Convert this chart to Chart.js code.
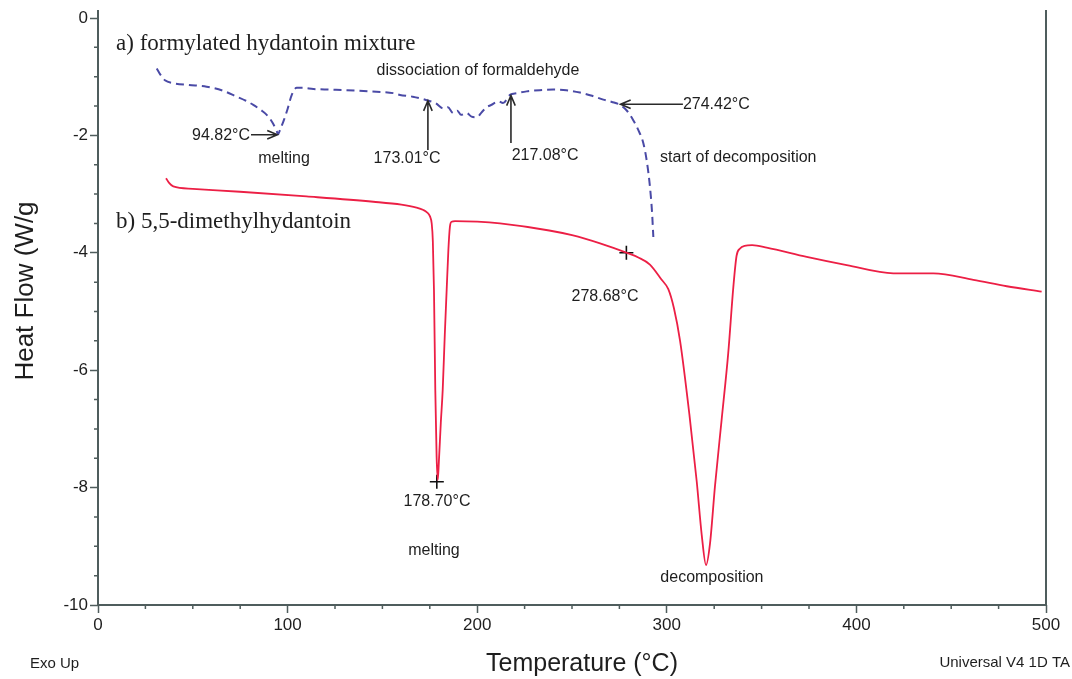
<!DOCTYPE html>
<html>
<head>
<meta charset="utf-8">
<title>DSC curves</title>
<script src="https://cdn.jsdelivr.net/npm/chart.js@4.4.0/dist/chart.umd.min.js"></script>
<style>
  html, body { margin: 0; padding: 0; background: #fff; }
  canvas { display: block; }
</style>
</head>
<body>
<canvas id="dsc" width="1072" height="679"></canvas>
<script>
// a) formylated hydantoin mixture (dashed blue)
const aTemp = [31, 33, 35.3, 39.7, 48, 57.3, 66, 73.1, 78, 81.9, 86, 89, 92, 94.3, 94.9, 96.3, 97.7, 100, 102.2, 104.8,
  108, 113.6, 122, 131.2, 143, 155.8, 159.3, 166, 173.4, 178, 182.1, 184.5, 187.4, 189.5, 191.5, 194.4, 197, 199.7,
  202.5, 205, 207.5, 209.5, 211.2, 213.6, 217.3, 221, 226.1, 233, 240.2, 247, 254.2, 260, 266.5, 271, 275.3, 279,
  282.3, 285, 287.6, 289.5, 291.1, 292.2, 292.9];
const aHeat = [-0.86, -0.97, -1.06, -1.11, -1.14, -1.17, -1.24, -1.34, -1.41, -1.48, -1.57, -1.65, -1.78, -1.93, -1.98,
  -1.88, -1.77, -1.55, -1.31, -1.19, -1.19, -1.21, -1.22, -1.23, -1.25, -1.28, -1.31, -1.34, -1.40, -1.45, -1.54,
  -1.52, -1.62, -1.58, -1.65, -1.62, -1.68, -1.69, -1.60, -1.52, -1.48, -1.44, -1.42, -1.45, -1.31, -1.28, -1.25,
  -1.23, -1.22, -1.23, -1.27, -1.32, -1.39, -1.43, -1.48, -1.58, -1.74, -1.91, -2.13, -2.45, -2.87, -3.30, -3.73];

// b) 5,5-dimethylhydantoin (solid red)
const bTemp = [35.9, 37.5, 39.7, 50, 74.9, 110, 145.2, 160, 168, 171.6, 173.5, 175.1, 176.0, 176.6, 177.2, 177.9, 178.6,
  179.2, 179.8, 180.8, 181.8, 182.9, 183.9, 184.8, 185.6, 186.5, 188.3, 200, 212, 238, 250, 264.8, 279.7, 285, 291.1,
  297.3, 300.8, 303.8, 307, 311.9, 315.8, 318.4, 320.7, 322.8, 325.4, 328.9, 332.4, 335.1, 336.8, 338.5, 341, 345,
  352.7, 373.8, 394.9, 419.5, 440.6, 461.7, 479.3, 497.7];
const bHeat = [-2.73, -2.81, -2.87, -2.91, -2.96, -3.04, -3.13, -3.18, -3.23, -3.27, -3.31, -3.38, -3.5, -3.8, -4.63,
  -6.34, -7.48, -7.87, -7.55, -6.9, -6.34, -5.4, -4.63, -3.95, -3.56, -3.47, -3.46, -3.47, -3.50, -3.62, -3.70, -3.84,
  -4.01, -4.08, -4.20, -4.46, -4.62, -4.95, -5.5, -6.75, -7.9, -8.8, -9.32, -8.95, -7.98, -6.85, -5.71, -4.58,
  -4.05, -3.93, -3.88, -3.87, -3.91, -4.07, -4.21, -4.35, -4.35, -4.46, -4.57, -4.66];

// peak markers (+)
const markTemp = [178.70, 278.68];
const markHeat = [-7.9, -4.0];

const xTicks = [0, 100, 200, 300, 400, 500];
const yTicks = [0, -2, -4, -6, -8, -10];

// text notes: [text, temp, heat, align, font]
const notes = [
  ['a) formylated hydantoin mixture', 9.5, -0.44, 'left', 'serif'],
  ['b) 5,5-dimethylhydantoin', 9.5, -3.48, 'left', 'serif'],
  ['dissociation of formaldehyde', 200.4, -0.90, 'center', 'sans'],
  ['94.82°C', 80.2, -2.01, 'right', 'sans'],
  ['melting', 98.1, -2.39, 'center', 'sans'],
  ['173.01°C', 163, -2.39, 'center', 'sans'],
  ['217.08°C', 235.8, -2.35, 'center', 'sans'],
  ['274.42°C', 308.5, -1.47, 'left', 'sans'],
  ['start of decomposition', 296.4, -2.37, 'left', 'sans'],
  ['278.68°C', 267.4, -4.74, 'center', 'sans'],
  ['178.70°C', 178.8, -8.23, 'center', 'sans'],
  ['melting', 177.2, -9.08, 'center', 'sans'],
  ['decomposition', 323.8, -9.54, 'center', 'sans']
];

// arrows: [fromT, fromH, toT, toH]
const arrows = [
  [80.7, -1.99, 94.6, -1.99],
  [174.0, -2.25, 174.0, -1.41],
  [217.8, -2.13, 217.8, -1.32],
  [308.5, -1.47, 275.6, -1.47]
];

const AXIS = '#4f5d5d';
const TEXT = '#1e1e1e';
const SANS = '"Liberation Sans", Arial, sans-serif';
const SERIF = '"Liberation Serif", "Times New Roman", serif';

const toPts = (xs, ys) => xs.map((x, i) => ({ x: x, y: ys[i] }));

// axis lines, right frame and minor ticks
const framePlugin = {
  id: 'frame',
  afterDraw(chart) {
    const { ctx, chartArea: a, scales: { x, y } } = chart;
    ctx.save();
    ctx.strokeStyle = AXIS;
    ctx.lineWidth = 2;
    ctx.beginPath();
    ctx.moveTo(a.left, a.top - 8);
    ctx.lineTo(a.left, a.bottom);
    ctx.lineTo(a.right, a.bottom);
    ctx.moveTo(a.right, a.top - 8);
    ctx.lineTo(a.right, a.bottom);
    ctx.stroke();

    ctx.lineWidth = 1.5;
    ctx.beginPath();
    for (let v = 25; v < 500; v += 25) {
      if (v % 100 === 0) continue;
      const px = x.getPixelForValue(v);
      ctx.moveTo(px, a.bottom);
      ctx.lineTo(px, a.bottom + 4);
    }
    for (let v = -0.5; v > -10; v -= 0.5) {
      if (Math.abs(v % 2) < 1e-6) continue;
      const py = y.getPixelForValue(v);
      ctx.moveTo(a.left, py);
      ctx.lineTo(a.left - 4, py);
    }
    ctx.stroke();
    ctx.restore();
  }
};

// notes, arrows and the outside labels
const notesPlugin = {
  id: 'notes',
  afterDatasetsDraw(chart) {
    const { ctx, scales: { x, y } } = chart;
    ctx.save();
    ctx.fillStyle = TEXT;
    ctx.textBaseline = 'middle';
    notes.forEach(([t, tx, ty, align, kind]) => {
      ctx.font = kind === 'serif' ? '23px ' + SERIF : '16px ' + SANS;
      ctx.textAlign = align;
      ctx.fillText(t, x.getPixelForValue(tx), y.getPixelForValue(ty));
    });

    ctx.strokeStyle = '#2a2a2a';
    ctx.lineWidth = 1.6;
    arrows.forEach(([x0, y0, x1, y1]) => {
      const ax = x.getPixelForValue(x0), ay = y.getPixelForValue(y0);
      const bx = x.getPixelForValue(x1), by = y.getPixelForValue(y1);
      const ang = Math.atan2(by - ay, bx - ax);
      ctx.beginPath();
      ctx.moveTo(ax, ay);
      ctx.lineTo(bx, by);
      ctx.moveTo(bx - 11 * Math.cos(ang - 0.4), by - 11 * Math.sin(ang - 0.4));
      ctx.lineTo(bx, by);
      ctx.lineTo(bx - 11 * Math.cos(ang + 0.4), by - 11 * Math.sin(ang + 0.4));
      ctx.stroke();
    });

    // axis titles and corner notes
    ctx.textAlign = 'center';
    ctx.font = '25px ' + SANS;
    ctx.fillText('Temperature (°C)', 582, 664);
    ctx.save();
    ctx.translate(26, 291);
    ctx.rotate(-Math.PI / 2);
    ctx.font = '26px ' + SANS;
    ctx.fillText('Heat Flow (W/g', 0, 0);
    ctx.restore();
    ctx.font = '15px ' + SANS;
    ctx.textAlign = 'left';
    ctx.fillText('Exo Up', 30, 664);
    ctx.textAlign = 'right';
    ctx.fillText('Universal V4 1D TA', 1070, 663);
    ctx.restore();
  }
};

new Chart(document.getElementById('dsc'), {
  type: 'line',
  data: {
    datasets: [
      {
        label: 'a) formylated hydantoin mixture',
        data: toPts(aTemp, aHeat),
        borderColor: '#4a4aa6',
        borderWidth: 2,
        borderDash: [8, 5],
        pointRadius: 0,
        cubicInterpolationMode: 'monotone'
      },
      {
        label: 'b) 5,5-dimethylhydantoin',
        data: toPts(bTemp, bHeat),
        borderColor: '#ec1f45',
        borderWidth: 1.8,
        pointRadius: 0,
        cubicInterpolationMode: 'monotone'
      },
      {
        label: 'peaks',
        data: toPts(markTemp, markHeat),
        showLine: false,
        pointStyle: 'cross',
        pointRadius: 7,
        borderColor: '#111',
        borderWidth: 1.6
      }
    ]
  },
  options: {
    responsive: false,
    animation: false,
    devicePixelRatio: 1,
    layout: { autoPadding: false, padding: { top: 18, right: 26, left: 0, bottom: 0 } },
    plugins: { legend: { display: false }, tooltip: { enabled: false } },
    scales: {
      x: {
        type: 'linear',
        min: 0,
        max: 500,
        afterBuildTicks: s => { s.ticks = xTicks.map(v => ({ value: v })); },
        afterFit: s => { s.height = 74; },
        ticks: { color: TEXT, font: { family: SANS, size: 17 }, padding: 2, maxRotation: 0 },
        grid: { drawOnChartArea: false, drawTicks: true, tickLength: 8, tickColor: AXIS, tickWidth: 1.5 },
        border: { display: false }
      },
      y: {
        type: 'linear',
        min: -10,
        max: 0,
        afterBuildTicks: s => { s.ticks = yTicks.map(v => ({ value: v })); },
        afterFit: s => { s.width = 98; },
        ticks: { color: TEXT, font: { family: SANS, size: 17 }, padding: 2 },
        grid: { drawOnChartArea: false, drawTicks: true, tickLength: 8, tickColor: AXIS, tickWidth: 1.5 },
        border: { display: false }
      }
    }
  },
  plugins: [framePlugin, notesPlugin]
});
</script>
</body>
</html>
